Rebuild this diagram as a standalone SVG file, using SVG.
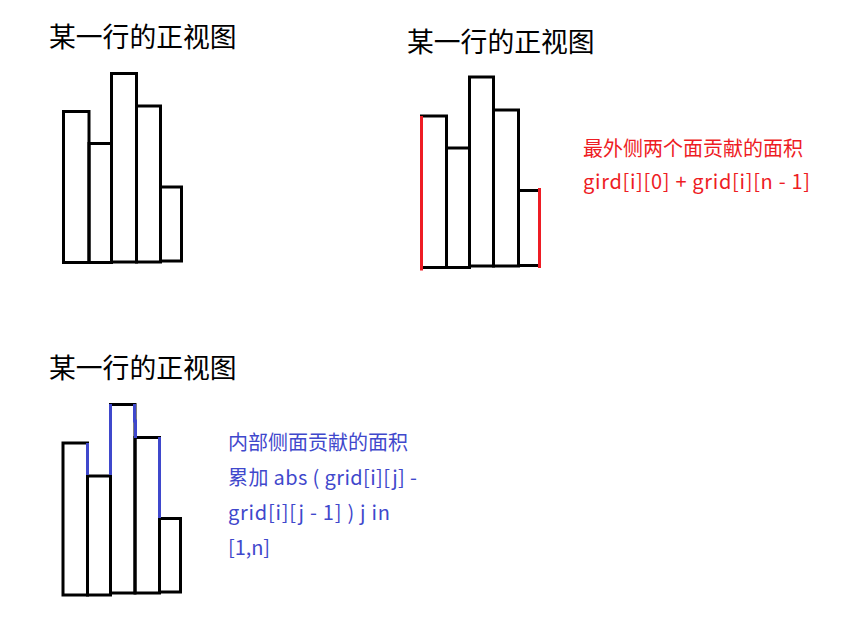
<svg xmlns="http://www.w3.org/2000/svg" width="842" height="617" viewBox="0 0 842 617">
<style>
.t{font-family:"Noto Sans CJK SC","Microsoft YaHei",sans-serif;}
.title{font-size:26.8px;fill:#000;}
.red{font-size:20px;fill:#ee1c24;}
.blue{font-size:20px;fill:#3f48cc;}
.bar{fill:none;stroke:#000;stroke-width:3;}
.rl{stroke:#ee1c24;stroke-width:3;fill:none;}
.bl{stroke:#3f48cc;stroke-width:3;fill:none;}
</style>
<rect width="842" height="617" fill="#fff"/>
<g id="chart1">
<text class="t title" x="49" y="47">某一行的正视图</text>
<rect class="bar" x="63.5" y="111.5" width="25.5" height="151"/>
<rect class="bar" x="89" y="143.5" width="22.5" height="119"/>
<rect class="bar" x="111.5" y="73.5" width="25" height="188.5"/>
<rect class="bar" x="136.5" y="106" width="24" height="156"/>
<rect class="bar" x="160.5" y="187" width="21" height="74"/>
</g>
<g id="chart2">
<text class="t title" x="407" y="52">某一行的正视图</text>
<rect class="bar" x="421.5" y="116" width="25" height="151.5"/>
<rect class="bar" x="446.5" y="148" width="23" height="119.5"/>
<rect class="bar" x="469.5" y="77" width="24" height="189"/>
<rect class="bar" x="493.5" y="110" width="25" height="156"/>
<rect class="bar" x="518.5" y="190.5" width="21" height="75"/>
<line class="rl" x1="421.5" y1="116" x2="421.5" y2="270.5"/>
<line class="rl" x1="539.5" y1="188" x2="539.5" y2="268"/>
<text class="t red" x="583" y="156">最外侧两个面贡献的面积</text>
<text class="t red" x="583" y="189" textLength="227" lengthAdjust="spacing">gird[i][0] + grid[i][n - 1]</text>
</g>
<g id="chart3">
<text class="t title" x="49" y="378">某一行的正视图</text>
<rect class="bar" x="63" y="443" width="24.5" height="152"/>
<rect class="bar" x="87.5" y="476" width="23" height="119"/>
<rect class="bar" x="110.5" y="404.5" width="24.5" height="188.5"/>
<rect class="bar" x="135" y="437.5" width="24.5" height="155.5"/>
<rect class="bar" x="159.5" y="518.5" width="21" height="73.5"/>
<g id="connectors">
<line class="bl" x1="87.5" y1="443" x2="87.5" y2="475"/>
<line class="bl" x1="110.5" y1="404" x2="110.5" y2="475"/>
<polyline class="bl" points="134.5,404 134.5,421 135.5,421 135.5,438"/>
<line class="bl" x1="159.5" y1="437" x2="159.5" y2="518"/>
</g>
<text class="t blue" x="228" y="450">内部侧面贡献的面积</text>
<text class="t blue" x="228" y="485" textLength="189" lengthAdjust="spacing">累加 abs ( grid[i][j] -</text>
<text class="t blue" x="228" y="520" textLength="162" lengthAdjust="spacing">grid[i][j - 1] ) j in</text>
<text class="t blue" x="228" y="555" textLength="42" lengthAdjust="spacing">[1,n]</text>
</g>
</svg>
